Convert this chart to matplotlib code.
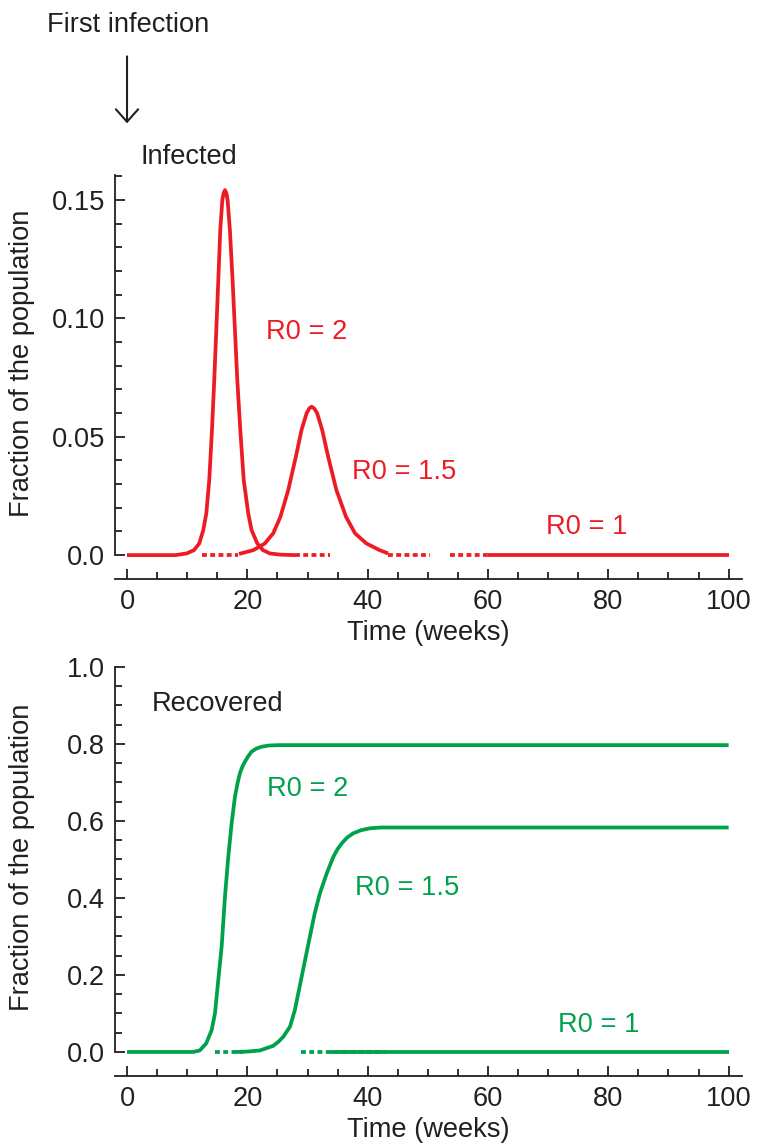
import matplotlib
matplotlib.use("Agg")
import matplotlib.pyplot as plt

plt.rcParams['font.family'] = ['Liberation Sans', 'DejaVu Sans']

RED = '#ED1C24'
GREEN = '#00A14B'
INK = '#231F20'

# infected fraction
inf2_x = [0, 8, 9.9, 11.13, 12.0, 12.68, 13.18, 13.67, 14.12, 14.5, 14.84, 15.17, 15.5,
          15.84, 16.05, 16.28, 16.5, 16.72, 17.1, 17.55, 17.94, 18.33, 18.83, 19.4, 20.15,
          20.7, 21.66, 22.6, 23.75, 25.5, 28]
inf2_y = [0, 0, 0.0007, 0.0021, 0.0049, 0.0106, 0.0176, 0.0317, 0.0528, 0.0739, 0.0951,
          0.116, 0.1373, 0.150, 0.1528, 0.1542, 0.1530, 0.150, 0.1373, 0.116, 0.0951,
          0.0739, 0.0528, 0.0317, 0.0176, 0.0106, 0.0049, 0.0021, 0.0007, 0.0002, 0]
inf15_x = [18.6, 21.0, 22.9, 24.3, 25.5, 26.8, 28.06, 29.0, 29.85, 30.3, 30.68, 31.1, 31.61,
           32.45, 33.44, 34.8, 36.4, 37.9, 39.8, 42.0, 43.4]
inf15_y = [0.0005, 0.0021, 0.0049, 0.0092, 0.0162, 0.0275, 0.0415, 0.0528, 0.0599, 0.0620,
           0.0627, 0.0620, 0.0599, 0.0528, 0.0415, 0.0275, 0.0162, 0.0092, 0.0049, 0.0021,
           0.0007]
inf1_x = [60, 100]
inf1_y = [0, 0]
inf1_dotted = [(12.4, 18.5), (27.9, 33.7), (43.4, 50.3), (53.7, 60.0)]

# recovered fraction
rec2_x = [0, 11, 12.1, 13.17, 14.07, 14.62, 15.17, 15.73, 16.28, 16.83, 17.39, 17.94, 18.4,
          18.77, 19.2, 19.6, 20.1, 20.7, 21.5, 22.4, 23.6, 25.4, 100]
rec2_y = [0, 0, 0.004, 0.0225, 0.057, 0.10, 0.187, 0.274, 0.403, 0.507, 0.594, 0.663, 0.700,
          0.724, 0.742, 0.754, 0.767, 0.780, 0.788, 0.793, 0.796, 0.797, 0.797]
rec15_x = [18, 20, 22.1, 24.3, 25.2, 26.0, 27.1, 27.9, 28.7, 29.6, 30.4, 31.2, 32.06, 33.2,
           34.3, 35.0, 35.7, 36.6, 37.6, 38.9, 40.4, 42.2, 44.2, 100]
rec15_y = [0, 0.001, 0.004, 0.016, 0.027, 0.040, 0.066, 0.109, 0.17, 0.239, 0.30, 0.36,
           0.412, 0.464, 0.507, 0.527, 0.542, 0.557, 0.568, 0.576, 0.581, 0.583, 0.583, 0.583]
rec1_x = [33.7, 100]
rec1_y = [0, 0]
rec1_dotted = [(14.6, 19.3), (29.0, 43.1)]

top_yticks = [0.0, 0.05, 0.10, 0.15]
top_ylabels = ['0.0', '0.05', '0.10', '0.15']
bot_yticks = [0.0, 0.2, 0.4, 0.6, 0.8, 1.0]
bot_ylabels = ['0.0', '0.2', '0.4', '0.6', '0.8', '1.0']
xticks = [0, 20, 40, 60, 80, 100]

FS = 19.6
LW = 2.7
DOT = (0, (1.3, 0.9))

fig = plt.figure(figsize=(7.57, 11.45), dpi=100)
ax1 = fig.add_axes([0.1519, 0.4943, 0.8281, 0.3529])
ax2 = fig.add_axes([0.1519, 0.0603, 0.8281, 0.3572])


def style(ax, ylo, yhi, yticks, ylabels, yminor):
    ax.set_xlim(-2, 102.2)
    ax.set_ylim(ylo, yhi)
    for s in ['top', 'right']:
        ax.spines[s].set_visible(False)
    for s in ['left', 'bottom']:
        ax.spines[s].set_linewidth(1.3)
        ax.spines[s].set_color(INK)
    ax.spines['left'].set_bounds(0, yhi)
    ax.set_xticks(xticks)
    ax.set_xticks(range(0, 101, 5), minor=True)
    ax.set_yticks(yticks)
    ax.set_yticklabels(ylabels)
    ax.set_yticks(yminor, minor=True)
    ax.tick_params(which='both', direction='in', color=INK, width=1.3, labelsize=FS,
                   labelcolor=INK, pad=7)
    ax.tick_params(which='major', length=7)
    ax.tick_params(which='minor', length=5)
    ax.set_xlabel('Time (weeks)', fontsize=FS, color=INK)
    ax.set_ylabel('Fraction of the population', fontsize=FS, color=INK)
    ax.yaxis.set_label_coords(-0.128, 0.535)


style(ax1, -0.0101, 0.1606, top_yticks, top_ylabels, [i * 0.01 for i in range(17)])
ax1.xaxis.set_label_coords(0.5, -0.1015)
style(ax2, -0.0623, 1.0, bot_yticks, bot_ylabels, [i * 0.05 for i in range(21)])
ax2.xaxis.set_label_coords(0.5, -0.100)

line_kw = dict(lw=LW, solid_capstyle='butt', solid_joinstyle='round')

# infected panel
ax1.plot(inf2_x, inf2_y, color=RED, clip_on=False, **line_kw)
ax1.plot(inf15_x, inf15_y, color=RED, **line_kw)
ax1.plot(inf1_x, inf1_y, color=RED, **line_kw)
for a, b in inf1_dotted:
    ax1.plot([a, b], [0, 0], color=RED, lw=LW, linestyle=DOT, dash_capstyle='butt')

# recovered panel
ax2.plot(rec2_x, rec2_y, color=GREEN, **line_kw)
ax2.plot(rec15_x, rec15_y, color=GREEN, **line_kw)
ax2.plot(rec1_x, rec1_y, color=GREEN, **line_kw)
for a, b in rec1_dotted:
    ax2.plot([a, b], [0, 0], color=GREEN, lw=LW, linestyle=DOT, dash_capstyle='butt')

# labels
ax1.text(23.1, 0.0942, 'R0 = 2', color=RED, fontsize=FS, va='center')
ax1.text(37.4, 0.0351, 'R0 = 1.5', color=RED, fontsize=FS, va='center')
ax1.text(69.6, 0.0118, 'R0 = 1', color=RED, fontsize=FS, va='center')
ax1.text(2.16, 0.1680, 'Infected', color=INK, fontsize=FS, va='center', clip_on=False)

ax2.text(23.3, 0.683, 'R0 = 2', color=GREEN, fontsize=FS, va='center')
ax2.text(37.9, 0.426, 'R0 = 1.5', color=GREEN, fontsize=FS, va='center')
ax2.text(71.6, 0.070, 'R0 = 1', color=GREEN, fontsize=FS, va='center')
ax2.text(4.15, 0.904, 'Recovered', color=INK, fontsize=FS, va='center')

fig.text(47 / 757, 1 - 25 / 1145, 'First infection', fontsize=FS, color=INK, va='center')
ax1.annotate('', xy=(0, 0.1824), xycoords='data', xytext=(0, 0.2107),
             textcoords='data', annotation_clip=False,
             arrowprops=dict(arrowstyle='->,head_length=0.45,head_width=0.4',
                             color=INK, lw=1.5, mutation_scale=20,
                             shrinkA=0, shrinkB=0))

fig.savefig('out.png', dpi=100)
